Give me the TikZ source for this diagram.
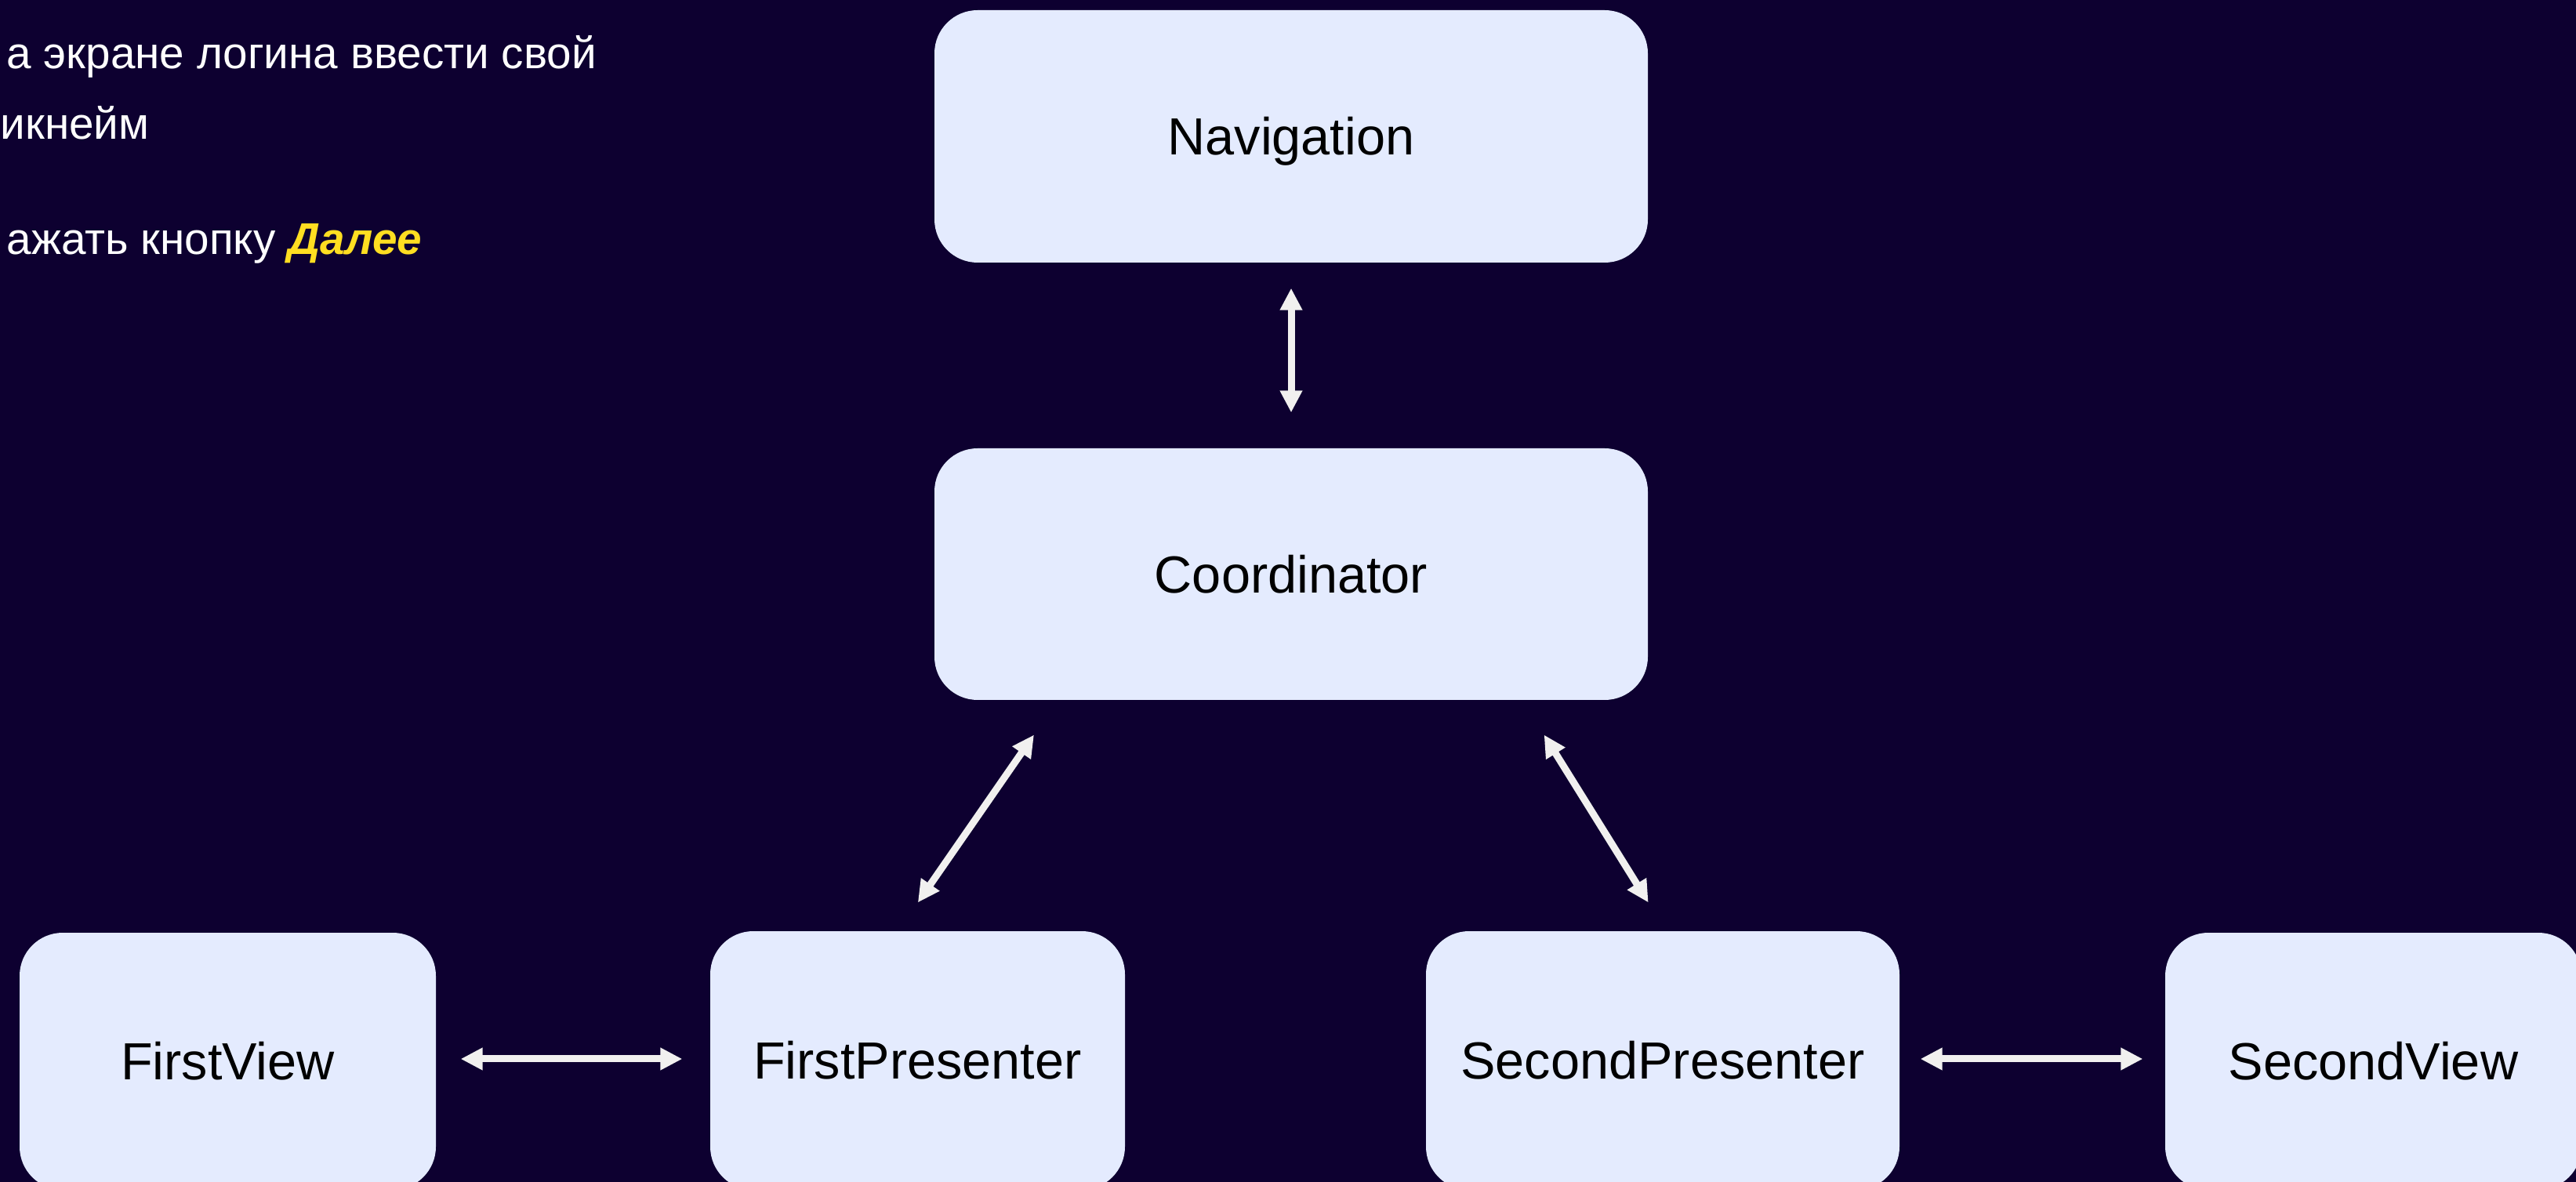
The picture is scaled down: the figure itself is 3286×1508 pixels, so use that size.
\documentclass[tikz,border=0pt]{standalone}
\usepackage{fontspec}
\setmainfont{Liberation Sans}
\usetikzlibrary{arrows.meta,calc}
\definecolor{bgnavy}{HTML}{0D0030}
\definecolor{boxfill}{HTML}{E4EBFE}
\definecolor{arrowcol}{HTML}{F1F0EF}
\definecolor{hlyellow}{HTML}{FFDE21}
\tikzset{
  blockbox/.style={rectangle, rounded corners=16.5pt, fill=boxfill, inner sep=0pt,
    font=\fontsize{20}{24}\selectfont, text=black, text height=14.3pt, text depth=0pt},
  biarrow/.style={draw=arrowcol, line width=2.7pt,
    {Triangle[length=8.4pt,width=8.1pt]}-{Triangle[length=8.4pt,width=8.1pt]}},
  sidetext/.style={anchor=base west, inner sep=0pt, text=white,
    font=\fontsize{17}{20}\selectfont}
}
\begin{document}
\begin{tikzpicture}[x=0.3pt,y=-0.3pt]
\fill[bgnavy] (0,0) rectangle (3286,1508);
\useasboundingbox (0,0) rectangle (3286,1508);

\node[sidetext] (t1) at (8,88) {а экране логина ввести свой};
\node[sidetext] (t2) at (0,178) {икнейм};
\node[sidetext] (t3) at (8,325) {ажать кнопку \textcolor{hlyellow}{\textbf{\textit{Далее}}}};

\node[blockbox, minimum width=273pt, minimum height=96.6pt] (nav) at (1647,174) {Navigation};
\node[blockbox, minimum width=273pt, minimum height=96.3pt] (coord) at (1647,732.5) {Coordinator};
\node[blockbox, minimum width=159.3pt, minimum height=98.4pt] (fv) at (290.5,1354) {FirstView};
\node[blockbox, minimum width=158.7pt, minimum height=99pt] (fp) at (1170.5,1353) {FirstPresenter};
\node[blockbox, minimum width=181.2pt, minimum height=99pt] (sp) at (2121,1353) {SecondPresenter};
\node[blockbox, minimum width=159.3pt, minimum height=98.4pt] (sv) at (3027.5,1354) {SecondView};

\draw[biarrow, shorten <=9.6pt, shorten >=13.5pt] (nav.south) -- (coord.north);
\draw[biarrow, shorten <=16pt, shorten >=13.1pt]
  ($(coord.south west)+(158,0)$) -- ($(fp.north)+(-24.5,0)$);
\draw[biarrow, shorten <=15.5pt, shorten >=12.7pt]
  ($(coord.south west)+(751,0)$) -- ($(sp.north)+(4,0)$);
\draw[biarrow, shorten <=9.3pt, shorten >=10.5pt]
  ($(fv.east)+(0,-3)$) -- ($(fv.east -| fp.west)+(0,-3)$);
\draw[biarrow, shorten <=7.8pt, shorten >=8.4pt]
  ($(sp.east)+(0,-2)$) -- ($(sp.east -| sv.west)+(0,-2)$);
\end{tikzpicture}
\end{document}
